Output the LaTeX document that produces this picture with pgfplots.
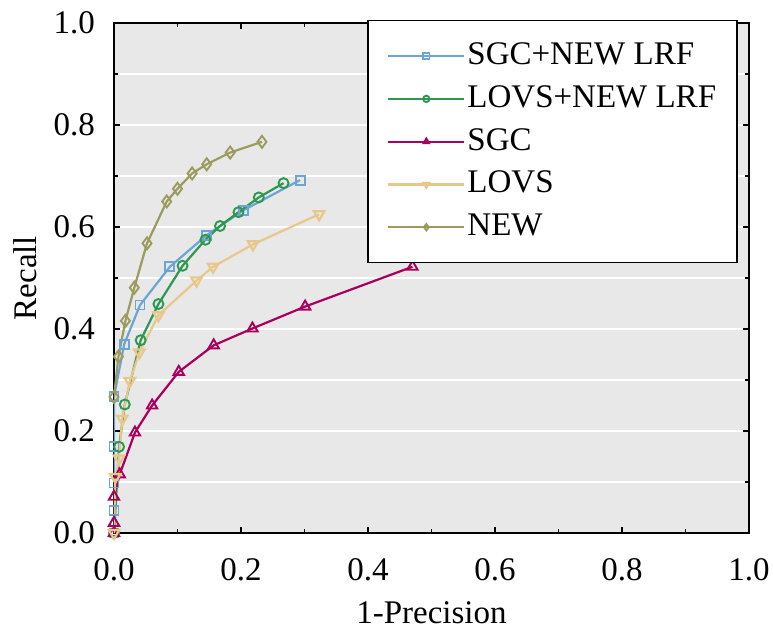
\documentclass[border=0pt]{standalone}
\usepackage{fontspec}
\setmainfont{Liberation Serif}
\usepackage{pgfplots}
\pgfplotsset{compat=1.18}
\definecolor{cBlue}{RGB}{108,164,214}
\definecolor{cGreen}{RGB}{46,152,80}
\definecolor{cMag}{RGB}{168,0,92}
\definecolor{cTan}{RGB}{232,200,138}
\definecolor{cOlive}{RGB}{155,155,95}
\definecolor{bgGray}{RGB}{232,232,232}
\begin{document}
\fontsize{33}{40}\selectfont
\begin{tikzpicture}
\begin{axis}[
  at={(0,0)}, anchor=south west,
  scale only axis, width=635pt, height=510pt,
  xmin=0, xmax=1, ymin=0, ymax=1,
  xtick={0,0.2,...,1.0}, ytick={0,0.2,...,1.0},
  minor x tick num=1, minor y tick num=1,
  /pgf/number format/fixed, /pgf/number format/fixed zerofill, /pgf/number format/precision=1,
  /pgf/number format/assume math mode=true,
  ticklabel style={font=\fontsize{33}{40}\selectfont},
  yticklabel style={xshift=-8pt},
  xticklabel style={yshift=-14pt},
  label style={font=\fontsize{33}{40}\selectfont},
  xlabel={1-Precision}, ylabel={Recall},
  xlabel style={at={(axis description cs:0.5,-0.157)}, anchor=center, inner sep=0pt},
  ylabel style={at={(axis description cs:-0.1402,0.5)}, anchor=center, inner sep=0pt},
  axis background/.style={fill=bgGray},
  axis line style={line width=1.8pt, black},
  major tick length=6pt, minor tick length=4pt,
  every tick/.style={black, line width=1.3pt},
  ymajorgrids, yminorgrids,
  major grid style={white, line width=2pt},
  minor grid style={white, line width=2pt},
  legend style={at={(0.9825,1.006)}, anchor=north east, draw=black, line width=1.5pt,
    fill=white, font=\fontsize{33}{40}\selectfont, row sep=12pt,
    inner xsep=19pt, inner ysep=20pt},
  legend cell align=left,
  legend image code/.code={\draw[mark repeat=2, mark phase=2, mark size=3.2pt]
     plot coordinates {(0pt,0pt)(38pt,0pt)(76pt,0pt)};},
  every axis plot/.append style={line width=2.2pt, mark options={solid, line width=1.9pt}},
]
\addplot[color=cBlue, mark=square, mark size=4.5pt] coordinates {
 (0,0.0) (0,0.045) (0,0.098) (0,0.169) (0,0.267) (0.016,0.370) (0.041,0.447)
 (0.088,0.522) (0.146,0.584) (0.204,0.633) (0.293,0.692)};
\addlegendentry{SGC+NEW LRF}
\addplot[color=cGreen, mark=o, mark size=5pt] coordinates {
 (0,0.0) (0.008,0.169) (0.017,0.252) (0.042,0.378) (0.070,0.449) (0.108,0.524)
 (0.144,0.575) (0.167,0.602) (0.196,0.629) (0.228,0.658) (0.267,0.686)};
\addlegendentry{LOVS+NEW LRF}
\addplot[color=cMag, mark=triangle, mark size=6pt] coordinates {
 (0,0.0) (0,0.020) (0,0.071) (0.009,0.115) (0.033,0.197) (0.060,0.250)
 (0.102,0.316) (0.157,0.368) (0.218,0.401) (0.301,0.444) (0.470,0.522)};
\addlegendentry{SGC}
\addplot[color=cTan, mark=triangle, mark size=6pt, mark options={rotate=180}] coordinates {
 (0,0.0) (0.002,0.110) (0.008,0.146) (0.013,0.224) (0.025,0.298) (0.040,0.354)
 (0.070,0.427) (0.130,0.495) (0.156,0.522) (0.219,0.566) (0.323,0.625)};
\addlegendentry{LOVS}
\addplot[color=cOlive, mark=diamond, mark size=6pt] coordinates {
 (0,0.267) (0.007,0.346) (0.018,0.416) (0.032,0.481) (0.052,0.568) (0.083,0.650)
 (0.100,0.675) (0.123,0.705) (0.146,0.723) (0.183,0.746) (0.233,0.767)};
\addlegendentry{NEW}
\end{axis}
\pgfresetboundingbox
\path[use as bounding box] (-114pt,-97pt) rectangle (659pt,533pt);
\end{tikzpicture}
\end{document}
